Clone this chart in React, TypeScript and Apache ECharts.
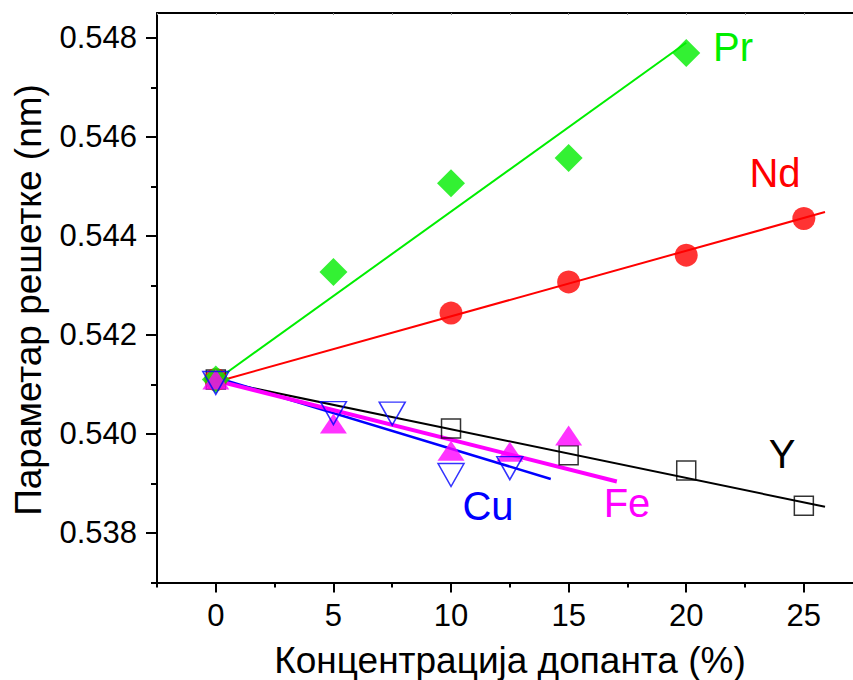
import React, { useEffect, useRef } from "react";
import * as echarts from "echarts";

// ---- data ----
const prX = [0, 5, 10, 15, 20];
const prY = [0.5411, 0.54327, 0.54506, 0.54557, 0.54769];
const ndX = [0, 10, 15, 20, 25];
const ndY = [0.5411, 0.54244, 0.54307, 0.54361, 0.54435];
const yX = [0, 10, 15, 20, 25];
const yY = [0.5411, 0.54011, 0.53957, 0.53926, 0.53855];
const feX = [0, 5, 10, 12.5, 15];
const feY = [0.5411, 0.54021, 0.53966, 0.53964, 0.53997];
const cuX = [0, 5, 7.5, 10, 12.5];
const cuY = [0.54103, 0.54042, 0.54041, 0.53917, 0.53931];

// linear fit lines: [x0, x1], [y0, y1]
const prFitX = [0, 20];
const prFitY = [0.54108, 0.5479];
const ndFitX = [0, 25.9];
const ndFitY = [0.54105, 0.54448];
const yFitX = [0, 25.9];
const yFitY = [0.54108, 0.53853];
const feFitX = [0, 17.05];
const feFitY = [0.54108, 0.53904];
const cuFitX = [0, 14.24];
const cuFitY = [0.54114, 0.53909];

// axes
const xMin = -2.5;
const xMax = 27.09; // plot frame continues past the picture's right edge
const xMajorTicks = [0, 5, 10, 15, 20, 25];
const xMinorTicks = [-2.5, 2.5, 7.5, 12.5, 17.5, 22.5];
const xTopTicks = [-2.5, 0, 2.5, 5, 7.5, 10, 12.5, 15, 17.5, 20, 22.5, 25];
const yMajorTicks = [0.538, 0.54, 0.542, 0.544, 0.546, 0.548];
const yMinorTicks = [0.537, 0.539, 0.541, 0.543, 0.545, 0.547];

const xTitle = "Концентрација допанта (%)";
const yTitle = "Параметар решетке (nm)";

const FONT = "'Liberation Sans', Arial, sans-serif";
const GREEN = "#00ee00";

const zip = (xs: number[], ys: number[]) => xs.map((x, i) => [x, ys[i]]);

export default function App() {
  const ref = useRef<HTMLDivElement>(null);
  useEffect(() => {
    if (!ref.current) return;
    const chart = echarts.init(ref.current, undefined, { renderer: "svg" });
    const fit = (name: string, xs: number[], ys: number[], color: string, width: number) => ({
      name,
      type: "line",
      data: zip(xs, ys),
      showSymbol: false,
      symbol: "none",
      lineStyle: { color, width },
      xAxisIndex: 0,
      yAxisIndex: 0,
      z: 2,
    });
    const pts = (name: string, xs: number[], ys: number[], symbol: string, size: any, item: any, rotate = 0) => ({
      name,
      type: "scatter",
      data: zip(xs, ys),
      symbol,
      symbolSize: size,
      symbolRotate: rotate,
      itemStyle: item,
      xAxisIndex: 0,
      yAxisIndex: 0,
      z: 3,
    });
    const option: any = {
      animation: false,
      backgroundColor: "#ffffff",
      textStyle: { fontFamily: FONT },
      grid: { left: 157, top: 13, right: 0, bottom: 97.5, containLabel: false },
      xAxis: [
        {
          type: "value",
          position: "bottom",
          min: xMin,
          max: xMax,
          axisLine: { show: true, onZero: false, lineStyle: { color: "#000", width: 2 } },
          axisTick: { show: true, inside: false, length: 10, customValues: xMajorTicks, lineStyle: { color: "#000", width: 2 } },
          axisLabel: { show: true, customValues: xMajorTicks, margin: 17, color: "#000", fontSize: 31, fontFamily: FONT },
          splitLine: { show: false },
        },
        {
          type: "value",
          position: "top",
          min: xMin,
          max: xMax,
          axisLine: { show: true, onZero: false, lineStyle: { color: "#000", width: 2 } },
          axisTick: { show: true, inside: true, length: 2, customValues: xTopTicks, lineStyle: { color: "#888", width: 1 } },
          axisLabel: { show: false },
          splitLine: { show: false },
        },
        {
          type: "value",
          position: "bottom",
          min: xMin,
          max: xMax,
          axisLine: { show: false, onZero: false },
          axisTick: { show: true, inside: false, length: 5, customValues: xMinorTicks, lineStyle: { color: "#000", width: 2 } },
          axisLabel: { show: false },
          splitLine: { show: false },
        },
      ],
      yAxis: [
        {
          type: "value",
          position: "left",
          min: 0.537,
          max: 0.5485,
          axisLine: { show: true, onZero: false, lineStyle: { color: "#000", width: 2 } },
          axisTick: { show: true, inside: false, length: 11, customValues: yMajorTicks, lineStyle: { color: "#000", width: 2 } },
          axisLabel: {
            show: true,
            customValues: yMajorTicks,
            margin: 20,
            color: "#000",
            fontSize: 31,
            fontFamily: FONT,
            formatter: (v: number) => v.toFixed(3),
          },
          splitLine: { show: false },
        },
        {
          type: "value",
          position: "left",
          min: 0.537,
          max: 0.5485,
          axisLine: { show: false, onZero: false },
          axisTick: { show: true, inside: false, length: 6, customValues: yMinorTicks, lineStyle: { color: "#000", width: 2 } },
          axisLabel: { show: false },
          splitLine: { show: false },
        },
      ],
      series: [
        fit("Y fit", yFitX, yFitY, "#000000", 2),
        fit("Nd fit", ndFitX, ndFitY, "#ff0000", 2),
        fit("Pr fit", prFitX, prFitY, GREEN, 2),
        fit("Cu fit", cuFitX, cuFitY, "#0000ff", 2.5),
        fit("Fe fit", feFitX, feFitY, "#ff00ff", 4),
        pts("Y", yX, yY, "rect", 19, { color: "rgba(0,0,0,0)", borderColor: "#000", borderWidth: 1.5 }),
        pts("Nd", ndX, ndY, "circle", 23, { color: "#ff0000" }),
        pts("Pr", prX, prY, "diamond", 28, { color: GREEN }),
        pts("Fe", feX, feY, "triangle", [27, 20], { color: "#ff00ff" }),
        pts("Cu", cuX, cuY, "triangle", [26, 23], { color: "rgba(0,0,0,0)", borderColor: "#0000ff", borderWidth: 1.5 }, 180),
      ],
      graphic: [
        { type: "text", x: 733, y: 47, style: { text: "Pr", fill: GREEN, font: `40px ${FONT}`, textAlign: "center", textVerticalAlign: "middle" } },
        { type: "text", x: 775, y: 173, style: { text: "Nd", fill: "#ff0000", font: `40px ${FONT}`, textAlign: "center", textVerticalAlign: "middle" } },
        { type: "text", x: 782, y: 454, style: { text: "Y", fill: "#000000", font: `40px ${FONT}`, textAlign: "center", textVerticalAlign: "middle" } },
        { type: "text", x: 488, y: 506, style: { text: "Cu", fill: "#0000ff", font: `40px ${FONT}`, textAlign: "center", textVerticalAlign: "middle" } },
        { type: "text", x: 627, y: 503, style: { text: "Fe", fill: "#ff00ff", font: `40px ${FONT}`, textAlign: "center", textVerticalAlign: "middle" } },
        { type: "text", x: 510, y: 660, style: { text: xTitle, fill: "#000", font: `37px ${FONT}`, textAlign: "center", textVerticalAlign: "middle" } },
        { type: "text", x: 28, y: 300, rotation: Math.PI / 2, style: { text: yTitle, fill: "#000", font: `37px ${FONT}`, textAlign: "center", textVerticalAlign: "middle" } },
      ],
    };
    chart.setOption(option);
    return () => chart.dispose();
  }, []);
  return (
    <div
      ref={ref}
      style={{ position: "fixed", left: 0, top: 0, width: 853, height: 680, background: "#fff" }}
    />
  );
}
